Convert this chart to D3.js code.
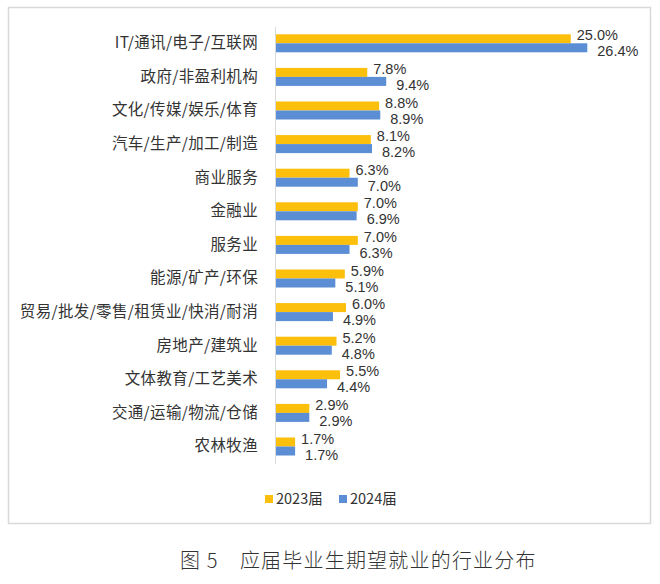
<!DOCTYPE html>
<html><head><meta charset="utf-8">
<script src="https://cdn.jsdelivr.net/npm/d3@7"></script>
<style>
html,body{margin:0;padding:0;background:#fff;}
svg{display:block;}
</style></head>
<body>
<svg id="chart" width="660" height="584"></svg>
<script>
const categories = ["IT/通讯/电子/互联网","政府/非盈利机构","文化/传媒/娱乐/体育","汽车/生产/加工/制造","商业服务","金融业","服务业","能源/矿产/环保","贸易/批发/零售/租赁业/快消/耐消","房地产/建筑业","文体教育/工艺美术","交通/运输/物流/仓储","农林牧渔"];
const seriesNames = ["2023届","2024届"];
const values2023 = [25.0,7.8,8.8,8.1,6.3,7.0,7.0,5.9,6.0,5.2,5.5,2.9,1.7];
const values2024 = [26.4,9.4,8.9,8.2,7.0,6.9,6.3,5.1,4.9,4.8,4.4,2.9,1.7];
const colors = ["#FCBF0B","#5B8ED5"];
const caption = "图 5　应届毕业生期望就业的行业分布";

const svg = d3.select("#chart");
const CJK = "'Microsoft YaHei','Noto Sans CJK SC','Noto Sans',sans-serif";
const NUM = "'Liberation Sans','Noto Sans CJK SC',sans-serif";

// frame
svg.append("rect").attr("x",8.5).attr("y",7.5).attr("width",642).attr("height",516)
  .attr("fill","#fff").attr("stroke","#d9d9d9").attr("stroke-width",1.5);

const x = d3.scaleLinear().domain([0,30]).range([275,275+30*11.83]);
const y = d3.scaleBand().domain(categories).range([26.5,26.5+13*33.6]).padding(0);
const inner = d3.scaleBand().domain(seriesNames).range([0,18]).padding(0);

const data = categories.map((c,i)=>({cat:c, vals:[values2023[i],values2024[i]]}));

const g = svg.append("g");
const groups = g.selectAll("g.grp").data(data).join("g").attr("class","grp")
  .attr("transform",d=>`translate(0,${y(d.cat)+y.bandwidth()/2-9})`);

groups.selectAll("rect").data(d=>d.vals.map((v,k)=>({v,k}))).join("rect")
  .attr("x",x(0)).attr("y",d=>inner(seriesNames[d.k]))
  .attr("width",d=>x(d.v)-x(0)).attr("height",inner.bandwidth())
  .attr("fill",d=>colors[d.k]);

groups.selectAll("text.val").data(d=>d.vals.map((v,k)=>({v,k}))).join("text")
  .attr("class","val")
  .attr("x",d=>x(d.v)+(d.k===0?6:10))
  .attr("y",d=>d.k===0?inner(seriesNames[0])+1:inner(seriesNames[1])+inner.bandwidth()-1)
  .attr("dy","0.35em")
  .attr("font-family",NUM).attr("font-size",14.5).attr("fill","#333")
  .text(d=>d.v.toFixed(1)+"%");

// axis line
const axis = d3.axisLeft(y).tickSize(0).tickPadding(17);
const ag = svg.append("g").attr("transform",`translate(${x(0)},0)`).call(axis);
ag.select(".domain").attr("stroke","#d9d9d9").attr("stroke-width",1);
ag.selectAll("text").attr("font-family",CJK).attr("font-size",15.5).attr("fill","#333")
  .attr("letter-spacing",0.35);

// legend
const leg = svg.append("g");
const legX = [265,339];
seriesNames.forEach((s,k)=>{
  leg.append("rect").attr("x",legX[k]).attr("y",495).attr("width",8).attr("height",8).attr("fill",colors[k]);
  leg.append("text").attr("x",legX[k]+11).attr("y",499).attr("dy","0.35em")
    .attr("font-family",CJK).attr("font-size",14.5).attr("fill","#333").text(s);
});

// caption
svg.append("text").attr("x",180).attr("y",561).attr("dy","0.35em")
  .attr("font-family",CJK).attr("font-size",20).attr("font-weight",300).attr("fill","#333")
  .attr("letter-spacing",1.2).text(caption);
</script>
</body></html>
